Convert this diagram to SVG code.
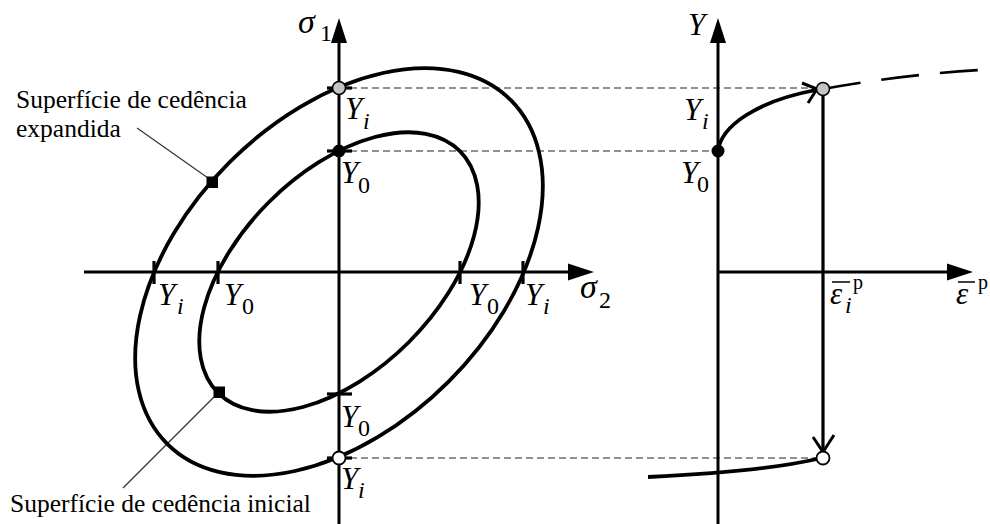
<svg xmlns="http://www.w3.org/2000/svg" width="990" height="524" viewBox="0 0 990 524">
<defs>
<style>
.ax{stroke:#000;stroke-width:3;fill:none}
.ell{stroke:#000;stroke-width:3.8;fill:none}
.dash{stroke:#222;stroke-width:1.2;stroke-dasharray:7,4;fill:none}
.tick{stroke:#000;stroke-width:3.2}
.lead{stroke:#333;stroke-width:1.2}
.hd{fill:#000;stroke:none}
.m{font-family:"Liberation Serif",serif;font-style:italic;font-size:31px;fill:#000}
.g{font-size:34px}
.mi{font-style:italic;font-size:24px}
.s{font-style:normal;font-size:24px}
.p{font-style:normal;font-size:20px}
.lbl{font-family:"Liberation Serif",serif;font-size:25.5px;fill:#000}
</style>
</defs>
<rect width="990" height="524" fill="#fff"/>

<g id="connectors">
  <line class="dash" x1="339" y1="88" x2="817" y2="88"/>
  <line class="dash" x1="339" y1="151" x2="718" y2="151"/>
  <line class="dash" x1="339" y1="458" x2="817" y2="458"/>
  <line class="lead" x1="137" y1="128" x2="208" y2="178"/>
  <line class="lead" x1="123" y1="488" x2="215" y2="396"/>
</g>

<g id="left-axes">
  <line class="ax" x1="339" y1="40" x2="339" y2="524"/>
  <polygon class="hd" points="339,18 331,43 347,43"/>
  <line class="ax" x1="84" y1="272" x2="570" y2="272"/>
  <polygon class="hd" points="594,272 568,263.5 568,280.5"/>
</g>

<g id="ellipses">
  <ellipse id="outer-surface" class="ell" cx="339" cy="272" rx="243" ry="155" transform="rotate(-45 339 272)"/>
  <ellipse id="inner-surface" class="ell" cx="339" cy="272" rx="171" ry="99" transform="rotate(-45 339 272)"/>
</g>

<g id="ticks">
  <line class="tick" x1="154" y1="261" x2="154" y2="284"/>
  <line class="tick" x1="218" y1="261" x2="218" y2="284"/>
  <line class="tick" x1="460" y1="261" x2="460" y2="284"/>
  <line class="tick" x1="523" y1="261" x2="523" y2="284"/>
  <line class="tick" x1="327" y1="88" x2="352" y2="88"/>
  <line class="tick" x1="327" y1="151" x2="352" y2="151"/>
  <line class="tick" x1="327" y1="394" x2="352" y2="394"/>
  <line class="tick" x1="327" y1="458" x2="352" y2="458"/>
</g>

<g id="points-left">
  <circle cx="339" cy="88" r="6.5" fill="#c4c4c4" stroke="#000" stroke-width="1.5"/>
  <circle cx="339" cy="151" r="6.5" fill="#000"/>
  <circle cx="339" cy="458" r="6.5" fill="#fff" stroke="#000" stroke-width="1.8"/>
  <rect x="206.5" y="176.5" width="11.5" height="11.5" fill="#000"/>
  <rect x="213.5" y="386.5" width="11.5" height="11.5" fill="#000"/>
</g>

<g id="left-labels">
  <text class="m g" x="298" y="33">σ<tspan class="s" x="320" y="41">1</tspan></text>
  <text class="m g" x="580" y="298">σ<tspan class="s" x="599" y="308">2</tspan></text>
  <text class="m" x="345" y="119">Y<tspan class="mi" x="363" y="129">i</tspan></text>
  <text class="m" x="341" y="183">Y<tspan class="s" x="358" y="193">0</tspan></text>
  <text class="m" x="158" y="305">Y<tspan class="mi" x="177" y="314">i</tspan></text>
  <text class="m" x="224" y="305">Y<tspan class="s" x="242" y="314">0</tspan></text>
  <text class="m" x="469" y="305">Y<tspan class="s" x="487" y="314">0</tspan></text>
  <text class="m" x="525" y="305">Y<tspan class="mi" x="543" y="314">i</tspan></text>
  <text class="m" x="341" y="427">Y<tspan class="s" x="358" y="436">0</tspan></text>
  <text class="m" x="341" y="489">Y<tspan class="mi" x="358" y="498">i</tspan></text>
  <text class="lbl" x="16" y="108">Superfície de cedência</text>
  <text class="lbl" x="16" y="137">expandida</text>
  <text class="lbl" x="10" y="512">Superfície de cedência inicial</text>
</g>

<g id="right-axes">
  <line class="ax" x1="718" y1="40" x2="718" y2="524"/>
  <polygon class="hd" points="718,18 710,43 726,43"/>
  <line class="ax" x1="718" y1="272" x2="950" y2="272"/>
  <polygon class="hd" points="973,272 947,263.5 947,280.5"/>
</g>

<g id="hardening-curve">
  <path d="M718,151 C721,126 757,101 816,90" fill="none" stroke="#000" stroke-width="3.8"/>
  <polyline points="802,83 817,89 808,103" fill="none" stroke="#000" stroke-width="3"/>
  <path d="M823,89 Q900,75 979,70" fill="none" stroke="#000" stroke-width="2.6" stroke-dasharray="38,21"/>
  <path d="M648,477 Q760,472 817,459" fill="none" stroke="#000" stroke-width="3.8"/>
  <line x1="823" y1="95" x2="823" y2="451" stroke="#000" stroke-width="3.2"/>
  <polyline points="813,437 823,452 834,435" fill="none" stroke="#000" stroke-width="3"/>
  <circle cx="718" cy="151" r="6.5" fill="#000"/>
  <circle cx="823" cy="89" r="6.5" fill="#c4c4c4" stroke="#000" stroke-width="1.5"/>
  <circle cx="823" cy="458" r="6.5" fill="#fff" stroke="#000" stroke-width="1.8"/>
</g>

<g id="right-labels">
  <text class="m" x="688" y="35">Y</text>
  <text class="m" x="684" y="120">Y<tspan class="mi" x="702" y="129">i</tspan></text>
  <text class="m" x="681" y="183">Y<tspan class="s" x="697" y="192">0</tspan></text>
  <text class="m" x="830" y="304">ε<tspan class="mi" x="845" y="313">i</tspan><tspan class="p" x="853" y="289">p</tspan></text>
  <line x1="832" y1="282" x2="850" y2="282" stroke="#000" stroke-width="1.5"/>
  <text class="m" x="956" y="304">ε<tspan class="p" x="978" y="289">p</tspan></text>
  <line x1="958" y1="282" x2="975" y2="282" stroke="#000" stroke-width="1.5"/>
</g>
</svg>
